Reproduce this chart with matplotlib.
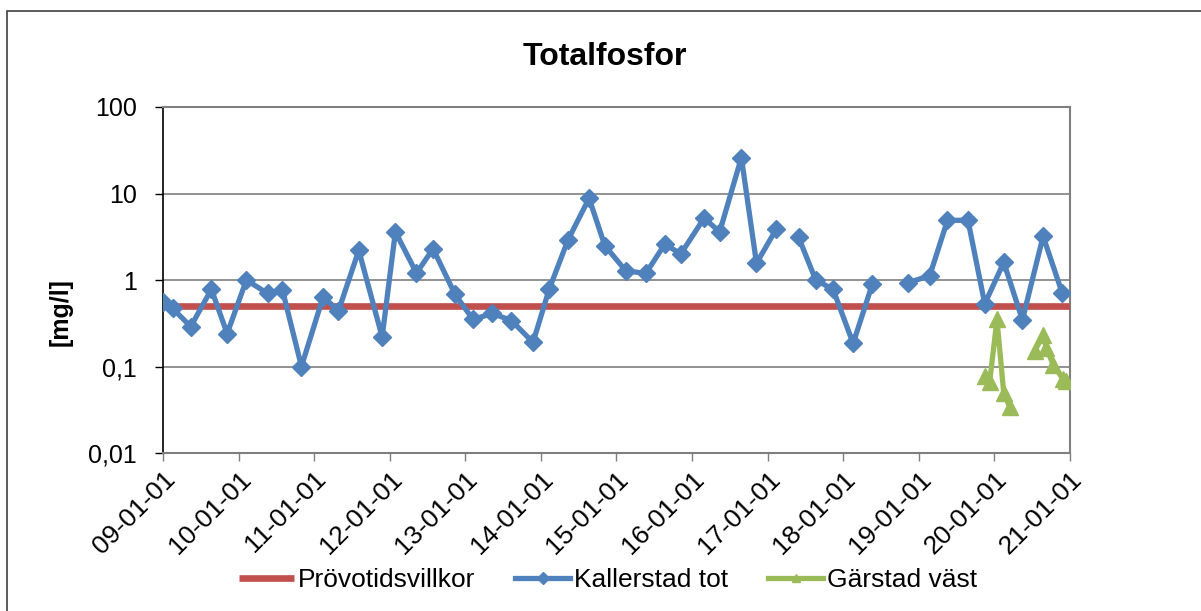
import numpy as np
import pandas as pd
import matplotlib
matplotlib.use("Agg")
import matplotlib.pyplot as plt
import matplotlib.dates as mdates
from matplotlib.patches import Rectangle

plt.rcParams['font.family'] = ['Liberation Sans', 'DejaVu Sans']

# data (NaN = gap in the series)
kallerstad_dates = ["2009-01-02", "2009-02-16", "2009-05-15", "2009-08-23", "2009-11-07",
                    "2010-02-08", "2010-05-21", "2010-08-01", "2010-11-01", "2011-02-14",
                    "2011-04-29", "2011-08-05", "2011-11-26", "2012-01-29", "2012-05-10",
                    "2012-07-29", "2012-11-11", "2013-02-07", "2013-05-12", "2013-08-12",
                    "2013-11-24", "2014-02-10", "2014-05-12", "2014-08-22", "2014-11-06",
                    "2015-02-15", "2015-05-23", "2015-08-23", "2015-11-08", "2016-02-29",
                    "2016-05-14", "2016-08-27", "2016-11-08", "2017-02-12", "2017-04-05",
                    "2017-05-31", "2017-08-21", "2017-11-13", "2018-02-18", "2018-05-22",
                    "2018-08-15", "2018-11-10", "2019-02-23", "2019-05-20", "2019-08-27",
                    "2019-11-16", "2020-02-16", "2020-05-16", "2020-08-24", "2020-11-25"]
kallerstad_vals = [0.55, 0.47, 0.29, 0.78, 0.24,
                   1.0, 0.70, 0.77, 0.10, 0.64,
                   0.44, 2.2, 0.22, 3.6, 1.2,
                   2.3, 0.69, 0.35, 0.41, 0.34,
                   0.19, 0.78, 2.9, 8.8, 2.5,
                   1.28, 1.19, 2.6, 2.0, 5.2,
                   3.6, 26.0, 1.56, 3.9, np.nan,
                   3.1, 1.0, 0.78, 0.185, 0.9,
                   np.nan, 0.93, 1.12, 4.9, 4.9,
                   0.53, 1.6, 0.345, 3.2, 0.70]

garstad_dates = ["2019-11-16", "2019-12-10", "2020-01-14", "2020-02-16", "2020-03-16",
                 "2020-05-15", "2020-07-14", "2020-08-24", "2020-09-09", "2020-10-11",
                 "2020-11-28", "2020-12-15"]
garstad_vals = [0.077, 0.067, 0.35, 0.049, 0.034,
                np.nan, 0.15, 0.23, 0.165, 0.105,
                0.072, 0.068]

limit_dates = ["2009-01-01", "2021-01-01"]
limit_vals = [0.5, 0.5]

ytick_vals = [0.01, 0.1, 1, 10, 100]
ytick_labels = ["0,01", "0,1", "1", "10", "100"]

RED = "#C0504D"
BLUE = "#4F81BD"
GREEN = "#9BBB59"
GRID = "#7f7f7f"

fig = plt.figure(figsize=(12.01, 6.11), dpi=100)
W, H = 1201, 611
ax = fig.add_axes([163 / W, 1 - 453 / H, (1070 - 163) / W, (453 - 107) / H])

ax.plot(pd.to_datetime(limit_dates), limit_vals, color=RED, lw=4.8,
        solid_capstyle='butt', label="Prövotidsvillkor", zorder=3)
ax.plot(pd.to_datetime(kallerstad_dates), kallerstad_vals, color=BLUE, lw=3.8,
        marker='D', markersize=9, label="Kallerstad tot", zorder=4)
ax.plot(pd.to_datetime(garstad_dates), garstad_vals, color=GREEN, lw=3.8,
        marker='^', markersize=11, label="Gärstad väst", zorder=5)

ax.set_yscale('log')
ax.set_ylim(0.01, 100)
ax.set_yticks(ytick_vals)
ax.set_yticklabels(ytick_labels)
ax.yaxis.set_minor_locator(matplotlib.ticker.NullLocator())

ax.set_xlim(pd.Timestamp("2009-01-01"), pd.Timestamp("2021-01-01"))
ax.xaxis.set_major_locator(mdates.YearLocator())
ax.xaxis.set_major_formatter(mdates.DateFormatter('%y-%m-%d'))

ax.grid(axis='y', color=GRID, lw=1.2)
ax.set_axisbelow(True)
for s in ['top', 'right', 'bottom']:
  ax.spines[s].set_color(GRID)
  ax.spines[s].set_linewidth(1.5)
ax.spines['left'].set_color('black')
ax.spines['left'].set_linewidth(1.2)

ax.tick_params(axis='y', labelsize=18, length=6, width=1, color='black', pad=13)
ax.tick_params(axis='x', labelsize=19, length=6, width=1, color=GRID, pad=4)
for lab in ax.get_xticklabels():
  lab.set_rotation(45)
  lab.set_ha('right')
  lab.set_rotation_mode('anchor')

fig.text(605 / W, 1 - 57 / H, "Totalfosfor", fontsize=23, fontweight='bold',
         ha='center', va='center')
fig.text(61 / W, 1 - 312 / H, "[mg/l]", fontsize=18, fontweight='bold',
         rotation=90, ha='center', va='center')

leg = fig.legend(loc='center', bbox_to_anchor=(608 / W, 1 - 580 / H), ncol=3,
                 frameon=False, fontsize=19, handlelength=2.1, handletextpad=0.15,
                 columnspacing=1.5, borderaxespad=0)
for h in leg.legend_handles:
  h.set_markersize(6)

# outer chart border
fig.add_artist(Rectangle((7 / W, -0.1), 1.2, 1 - 11 / H + 0.1,
                         transform=fig.transFigure, fill=False,
                         edgecolor='#404040', lw=1.2))

fig.savefig("out.png", dpi=100)
